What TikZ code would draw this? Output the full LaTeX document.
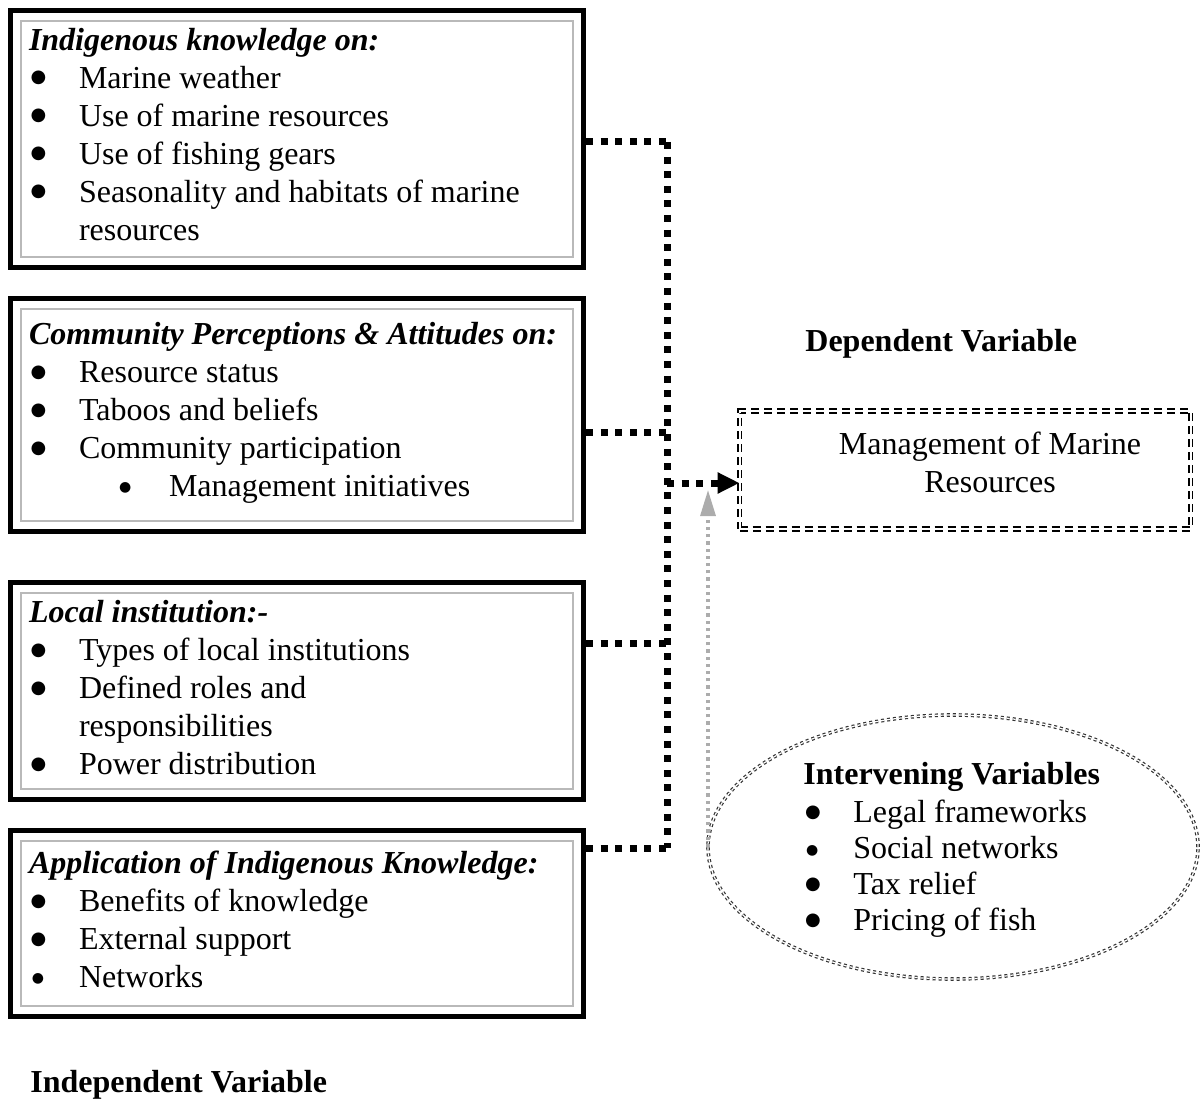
\documentclass[tikz,border=0pt]{standalone}
\usepackage{fontspec}
\setmainfont{Liberation Serif}
\newfontfamily\bulfont{DejaVu Sans}
\usetikzlibrary{arrows.meta, positioning, fit, shapes.geometric}

\newcommand{\hd}[1]{\textbf{\textit{#1}}}
\newcommand{\bigbul}{\raisebox{2.6pt}{\bulfont\fontsize{9pt}{9pt}\selectfont ●}}
\newcommand{\smallbul}{\raisebox{2.3pt}{\bulfont\fontsize{7pt}{7pt}\selectfont ●}}
\newcommand{\itm}[1]{\par\noindent\hangindent=25pt\hangafter=1\makebox[25pt][l]{\hspace{0.8pt}\bigbul}#1}
\newcommand{\itms}[1]{\par\noindent\makebox[25pt][l]{\hspace{1.4pt}\smallbul}#1}
\newcommand{\subitm}[1]{\par\noindent\makebox[70pt][l]{\hspace{45pt}\smallbul}#1}
\newcommand{\boxtext}[3]{\parbox[c][#1][t]{268pt}{\vspace*{#2}#3}}

\tikzset{
  inbox/.style={draw=gray!55, line width=0.8pt, anchor=north west, inner xsep=4pt, inner ysep=0pt, outer sep=0pt,
    font=\fontsize{16pt}{19pt}\selectfont},
  outerbox/.style={draw, line width=2.5pt, inner sep=5.25pt},
  link/.style={line width=3.5pt, dash pattern=on 3.5pt off 3.8pt},
  depbox/.style={draw, double, line width=0.9pt, double distance=1pt, dash pattern=on 4pt off 2.5pt,
    minimum width=225.5pt, minimum height=59pt, inner sep=0pt, outer sep=0pt},
  ivellipse/.style={ellipse, draw=black!80, double, line width=0.6pt, double distance=0.6pt,
    dash pattern=on 1.5pt off 1.5pt, minimum width=245pt, minimum height=132pt, inner sep=0pt, outer sep=0pt},
  ivlink/.style={draw=gray!65, line width=1.6pt, dash pattern=on 1.6pt off 2pt},
  label/.style={font=\fontsize{16pt}{19pt}\selectfont\bfseries, inner sep=0pt}
}

\begin{document}
\begin{tikzpicture}[x=0.5pt, y=-0.5pt]

\useasboundingbox (0,0) rectangle (1203,1101);

% independent variables
\node[inbox] (ik) at (21,21) {\boxtext{118pt}{3.5pt}{\hd{Indigenous knowledge on:}
  \itm{Marine weather}
  \itm{Use of marine resources}
  \itm{Use of fishing gears}
  \itm{Seasonality and habitats of marine\\resources}}};
\node[outerbox, fit=(ik)] (ikf) {};

\node[inbox] (cp) at (21,309) {\boxtext{106pt}{6.5pt}{\hd{Community Perceptions \& Attitudes on:}
  \itm{Resource status}
  \itm{Taboos and beliefs}
  \itm{Community participation}
  \subitm{Management initiatives}}};
\node[outerbox, fit=(cp)] (cpf) {};

\node[inbox] (li) at (21,593) {\boxtext{98pt}{3.5pt}{\hd{Local institution:-}
  \itm{Types of local institutions}
  \itm{Defined roles and\\responsibilities}
  \itm{Power distribution}}};
\node[outerbox, fit=(li)] (lif) {};

\node[inbox] (ak) at (21,841) {\boxtext{82.5pt}{5pt}{\hd{Application of Indigenous Knowledge:}
  \itm{Benefits of knowledge}
  \itm{External support}
  \itms{Networks}}};
\node[outerbox, fit=(ak)] (akf) {};

\node[label, anchor=west] (indep) at (30,1085) {Independent Variable};

% dependent variable
\node[label, anchor=west] (dep) at (805,344) {Dependent Variable};
\node[depbox] (mr) at (965,470) {};
\node[font=\fontsize{16pt}{19pt}\selectfont, align=center, inner sep=0pt] (mrtext) at (990,462) {Management of Marine\\Resources};

% intervening variables
\node[ivellipse] (iv) at (953,847) {};
\node[font=\fontsize{16pt}{18pt}\selectfont, align=left, anchor=north west, inner sep=0pt] (ivtext) at (803,762)
  {\parbox{200pt}{\textbf{Intervening Variables}\vspace{1pt}
  \itm{Legal frameworks}
  \itms{Social networks}
  \itm{Tax relief}
  \itm{Pricing of fish}}};

% connectors
\coordinate (j1) at (667,142);
\coordinate (j2) at (667,432);
\coordinate (j3) at (667,643);
\coordinate (j4) at (667,848);
\coordinate (j5) at (667,483);
\coordinate (gtip) at (709,490);

\draw[link] (ikf.east |- j1) -- (j1);
\draw[link] (cpf.east |- j2) -- (j2);
\draw[link] (lif.east |- j3) -- (j3);
\draw[link] (akf.east |- j4) -- (j4);
\draw[link] (j1) -- (j4);
\draw[link, -{Triangle[length=11pt, width=10pt]}] (j5) -- (mr.west |- j5);
\draw[ivlink, -{Triangle[length=13pt, width=7.5pt]}] (iv.west) -- (iv.west |- gtip);

\end{tikzpicture}
\end{document}
